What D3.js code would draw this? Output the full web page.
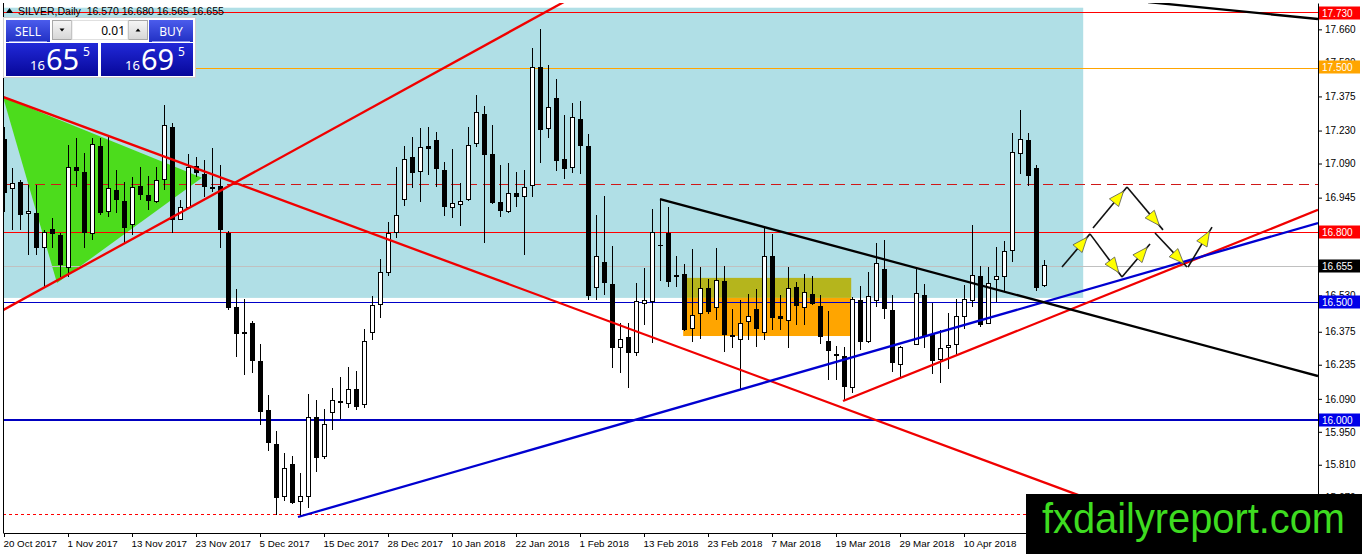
<!DOCTYPE html>
<html>
<head>
<meta charset="utf-8">
<script src="https://cdn.jsdelivr.net/npm/d3@7"></script>
<style>
  html, body { margin: 0; padding: 0; background: #fff; }
  svg { display: block; font-family: "Liberation Sans", Arial, sans-serif; }
</style>
</head>
<body>
<div id="chart"></div>
<script>
// daily candles, bar index 0 = 20 Oct 2017 (bar 113 = Good Friday, no candle)
var opens = [17.194,16.982,17.011,16.876,16.880,16.735,16.812,16.786,16.650,17.075,
  17.054,16.791,17.165,16.884,16.977,16.931,16.829,16.995,16.956,16.927,
  17.024,17.245,16.854,16.905,17.080,17.046,16.990,16.995,16.795,16.480,
  16.374,16.412,16.251,16.043,15.898,15.677,15.813,15.652,15.673,16.013,
  15.843,16.034,16.081,16.072,16.132,16.064,16.374,16.493,16.629,16.795,
  16.939,17.118,17.058,17.165,17.190,17.063,16.905,16.914,16.935,17.177,
  17.301,17.131,16.927,16.884,16.965,16.948,16.995,17.500,17.237,17.369,
  17.109,17.071,17.279,17.165,16.565,16.672,16.578,16.310,16.353,16.289,
  16.497,16.502,16.744,16.795,16.616,16.621,16.391,16.451,16.561,16.480,
  16.591,16.361,16.344,16.417,16.472,16.370,16.697,16.442,16.421,16.565,
  16.480,16.536,16.485,16.336,16.281,16.272,16.140,16.510,16.332,16.506,
  16.642,16.468,16.238,null,16.323,16.531,16.366,16.259,16.310,16.323,
  16.438,16.506,16.612,16.412,16.599,16.608,16.722,17.131,17.190,17.071,
  16.570];
var highs = [17.245,17.071,17.020,16.999,16.999,16.808,16.859,16.795,17.169,17.199,
  17.135,17.199,17.199,17.207,17.063,17.011,17.033,17.075,17.037,17.075,
  17.339,17.262,16.935,17.131,17.118,17.105,17.156,17.084,16.803,16.557,
  16.514,16.421,16.323,16.106,15.953,15.860,15.847,15.775,16.111,16.085,
  16.047,16.136,16.183,16.225,16.208,16.387,16.527,16.684,16.842,17.075,
  17.165,17.203,17.241,17.245,17.224,17.097,17.152,17.007,17.245,17.381,
  17.335,17.254,17.084,17.092,17.054,17.063,17.581,17.662,17.509,17.449,
  17.296,17.347,17.356,17.216,16.871,16.952,16.740,16.412,16.412,16.582,
  16.646,16.897,16.939,16.905,16.697,16.663,16.727,16.650,16.599,16.731,
  16.655,16.472,16.510,16.536,16.557,16.820,16.791,16.531,16.650,16.587,
  16.621,16.612,16.531,16.463,16.315,16.310,16.523,16.570,16.629,16.752,
  16.765,16.531,16.315,null,16.646,16.578,16.497,16.383,16.455,16.514,
  16.574,16.829,16.655,16.650,16.735,16.761,17.220,17.318,17.220,17.084,
  16.680];
var lows = [16.884,16.808,16.808,16.701,16.701,16.565,16.731,16.608,16.608,16.990,
  16.731,16.765,16.871,16.863,16.880,16.752,16.786,16.935,16.893,16.922,
  16.977,16.795,16.850,16.901,17.033,16.948,16.969,16.731,16.468,16.268,
  16.191,16.200,15.979,15.868,15.596,15.656,15.643,15.588,15.626,15.779,
  15.834,15.957,16.004,16.051,16.043,16.051,16.340,16.434,16.612,16.774,
  16.910,16.986,16.927,17.041,16.990,16.867,16.859,16.825,16.931,17.160,
  16.752,16.918,16.863,16.880,16.905,16.701,16.948,17.092,17.199,17.058,
  17.024,17.050,17.046,16.510,16.510,16.531,16.221,16.200,16.136,16.272,
  16.404,16.327,16.591,16.565,16.565,16.378,16.332,16.344,16.451,16.425,
  16.289,16.306,16.128,16.340,16.310,16.340,16.383,16.383,16.306,16.404,
  16.404,16.489,16.323,16.170,16.170,16.085,16.115,16.298,16.327,16.480,
  16.429,16.204,16.179,null,16.319,16.306,16.196,16.157,16.217,16.276,
  16.387,16.480,16.395,16.408,16.502,16.544,16.672,17.046,16.995,16.548,
  16.565];
var closes = [16.965,17.007,16.871,16.884,16.731,16.795,16.791,16.659,17.075,17.058,
  16.795,17.169,16.880,16.982,16.935,16.816,16.990,16.956,16.931,17.016,
  17.250,16.850,16.901,17.075,17.050,16.990,16.982,16.808,16.476,16.366,
  16.366,16.251,16.034,15.902,15.669,15.796,15.647,15.673,16.009,15.839,
  15.983,16.085,16.072,16.128,16.055,16.332,16.485,16.625,16.791,16.871,
  17.109,17.050,17.160,17.152,17.067,16.905,16.922,16.927,17.165,17.305,
  17.126,16.922,16.888,16.961,16.948,16.986,17.496,17.233,17.330,17.101,
  17.067,17.284,17.165,16.527,16.693,16.582,16.306,16.344,16.285,16.502,
  16.506,16.795,16.740,16.587,16.608,16.383,16.446,16.557,16.459,16.595,
  16.361,16.353,16.412,16.442,16.387,16.693,16.434,16.429,16.561,16.485,
  16.540,16.493,16.353,16.293,16.272,16.140,16.514,16.332,16.523,16.663,
  16.472,16.242,16.310,null,16.536,16.353,16.251,16.306,16.315,16.438,
  16.514,16.616,16.404,16.582,16.608,16.714,17.135,17.194,17.037,16.561,
  16.655];

var dateTicks = [0, 8, 16, 24, 32, 40, 48, 56, 64, 72, 80, 88, 96, 104, 112, 120];
var dateLabels = ['20 Oct 2017', '1 Nov 2017', '13 Nov 2017', '23 Nov 2017', '5 Dec 2017',
  '15 Dec 2017', '28 Dec 2017', '10 Jan 2018', '22 Jan 2018', '1 Feb 2018', '13 Feb 2018',
  '23 Feb 2018', '7 Mar 2018', '19 Mar 2018', '29 Mar 2018', '10 Apr 2018'];
var priceTicks = [17.660, 17.520, 17.375, 17.230, 17.090, 16.945, 16.800, 16.655, 16.530,
  16.375, 16.235, 16.090, 15.950, 15.810, 15.670];
var tagPrices = [17.730, 17.500, 16.800, 16.655, 16.500, 16.000];

// drawn objects, as [bar, price] points
var blueZone = [[-0.125, 17.752], [134.9, 16.519]];
var orangeZone = [[84.9, 16.604], [105.9, 16.357]];
var greenTriangle = [[-0.125, 17.373], [24.75, 17.029], [6.625, 16.582]];
var redFalling = [[-0.125, 17.373], [136, 15.66]];
var redRising = [[-0.125, 16.467], [70.5, 17.786]];
var redSupport = [[104.875, 16.081], [164.25, 16.893]];
var blueSupport = [[36.75, 15.588], [164.25, 16.837]];
var blackFalling = [[82, 16.939], [164.25, 16.187]];
var blackTop = [[143, 17.776], [164.25, 17.704]];
var arrowMoves = [
  [[132.25, 16.650], [135.75, 16.791]],
  [[135.75, 16.791], [139.75, 16.608]],
  [[139.75, 16.608], [143.25, 16.748]],
  [[136.125, 16.816], [140.375, 16.990]],
  [[140.375, 16.990], [144.875, 16.808]],
  [[143.875, 16.795], [147.875, 16.650]],
  [[148, 16.650], [151, 16.820]]
];

var symbol = 'SILVER,Daily';
var bidParts = ['16', '65', '5'];
var askParts = ['16', '69', '5'];
var lotSize = '0.01';
var siteName = 'fxdailyreport.com';

var W = 1362, H = 554;
var plotL = 3, plotR = 1318, plotT = 3, plotB = 533;

var x = d3.scaleLinear().domain([-0.125, 164.25]).range([plotL, plotR]);
var y = d3.scaleLinear().domain([15.520, 17.772]).range([plotB, plotT]);

var svg = d3.select('#chart').append('svg')
  .attr('width', W).attr('height', H);
svg.append('rect').attr('width', W).attr('height', H).attr('fill', '#fff');

var defs = svg.append('defs');
defs.append('clipPath').attr('id', 'plotClip').append('rect')
  .attr('x', plotL).attr('y', plotT).attr('width', plotR - plotL).attr('height', plotB - plotT);

function grad(id, c0, c1) {
  var g = defs.append('linearGradient').attr('id', id)
    .attr('x1', 0).attr('y1', 0).attr('x2', 0).attr('y2', 1);
  g.append('stop').attr('offset', '0%').attr('stop-color', c0);
  g.append('stop').attr('offset', '100%').attr('stop-color', c1);
}
grad('btnBlue', '#4b5cec', '#2130c4');
grad('boxBlue', '#2129d8', '#07079a');
grad('spin', '#f6f6f6', '#d6d6d6');

var plot = svg.append('g').attr('clip-path', 'url(#plotClip)');

// rectangles
plot.append('rect')
  .attr('x', x(blueZone[0][0])).attr('y', y(blueZone[0][1]))
  .attr('width', x(blueZone[1][0]) - x(blueZone[0][0]))
  .attr('height', y(blueZone[1][1]) - y(blueZone[0][1]))
  .attr('fill', '#b0dfe6');

plot.append('rect')
  .attr('x', x(orangeZone[0][0])).attr('y', y(orangeZone[0][1]))
  .attr('width', x(orangeZone[1][0]) - x(orangeZone[0][0]))
  .attr('height', y(blueZone[1][1]) - y(orangeZone[0][1]))
  .attr('fill', '#b5b51c');
plot.append('rect')
  .attr('x', x(orangeZone[0][0])).attr('y', y(blueZone[1][1]))
  .attr('width', x(orangeZone[1][0]) - x(orangeZone[0][0]))
  .attr('height', y(orangeZone[1][1]) - y(blueZone[1][1]))
  .attr('fill', '#ffa500');

plot.append('path')
  .attr('d', 'M' + greenTriangle.map(function (d) { return x(d[0]) + ',' + y(d[1]); }).join('L') + 'Z')
  .attr('fill', '#4cdc1c');

// horizontal levels (thin ones snapped to an even pixel row)
var levelStyles = [
  { p: 17.730, c: '#ff0000', w: 1, dash: null },
  { p: 17.500, c: '#ffa500', w: 1, dash: null },
  { p: 17.000, c: '#d01818', w: 1, dash: '10,6' },
  { p: 16.800, c: '#ff0000', w: 1, dash: null },
  { p: 16.655, c: '#c0c0c0', w: 1, dash: null },
  { p: 16.500, c: '#0000c8', w: 1, dash: null },
  { p: 16.000, c: '#0000c0', w: 2, dash: null },
  { p: 15.600, c: '#ff0000', w: 1, dash: '3,3' }
];
function levelY(d) {
  return d.w > 1 ? Math.round(y(d.p)) : 2 * Math.round(y(d.p) / 2) + 0.5;
}
plot.append('g').attr('shape-rendering', 'crispEdges')
  .selectAll('line').data(levelStyles).enter().append('line')
  .attr('x1', plotL).attr('x2', plotR)
  .attr('y1', levelY).attr('y2', levelY)
  .attr('stroke', function (d) { return d.c; })
  .attr('stroke-width', function (d) { return d.w; })
  .attr('stroke-dasharray', function (d) { return d.dash; });

// candles
var idx = d3.range(opens.length).filter(function (i) { return opens[i] != null; });
var candles = plot.append('g').attr('shape-rendering', 'crispEdges');
candles.selectAll('.wick').data(idx).enter().append('line')
  .attr('x1', function (i) { return Math.round(x(i)) + 0.5; })
  .attr('x2', function (i) { return Math.round(x(i)) + 0.5; })
  .attr('y1', function (i) { return y(highs[i]); })
  .attr('y2', function (i) { return y(lows[i]); })
  .attr('stroke', '#000').attr('stroke-width', 1);
candles.selectAll('.body').data(idx).enter().append('rect')
  .attr('x', function (i) { return Math.round(x(i)) - (closes[i] >= opens[i] ? 1.5 : 2); })
  .attr('width', function (i) { return closes[i] >= opens[i] ? 4 : 5; })
  .attr('y', function (i) { return y(Math.max(opens[i], closes[i])); })
  .attr('height', function (i) { return Math.max(1, Math.abs(y(opens[i]) - y(closes[i]))); })
  .attr('fill', function (i) { return closes[i] >= opens[i] ? '#fff' : '#000'; })
  .attr('stroke', function (i) { return closes[i] >= opens[i] ? '#000' : 'none'; })
  .attr('stroke-width', 1);

// trend lines
var line = d3.line().x(function (d) { return x(d[0]); }).y(function (d) { return y(d[1]); });
[
  { pts: redFalling, c: '#f00000' },
  { pts: redRising, c: '#f00000' },
  { pts: redSupport, c: '#f00000' },
  { pts: blueSupport, c: '#0000d0' },
  { pts: blackFalling, c: '#000' },
  { pts: blackTop, c: '#000' }
].forEach(function (t) {
  plot.append('path').attr('d', line(t.pts))
    .attr('fill', 'none').attr('stroke', t.c).attr('stroke-width', 2.3);
});

// arrows
arrowMoves.forEach(function (m) {
  var x0 = x(m[0][0]), y0 = y(m[0][1]), x1 = x(m[1][0]), y1 = y(m[1][1]);
  var dx = x1 - x0, dy = y1 - y0, len = Math.sqrt(dx * dx + dy * dy);
  var ux = dx / len, uy = dy / len;
  plot.append('line').attr('x1', x0).attr('y1', y0).attr('x2', x1).attr('y2', y1)
    .attr('stroke', '#111').attr('stroke-width', 1.6);
  var tx = x0 + ux * len * 0.9, ty = y0 + uy * len * 0.9;
  var bx = tx - ux * 15, by = ty - uy * 15;
  var px = -uy * 6, py = ux * 6;
  plot.append('path')
    .attr('d', 'M' + tx + ',' + ty + 'L' + (bx + px) + ',' + (by + py) + 'L' + (bx - px) + ',' + (by - py) + 'Z')
    .attr('fill', '#ffff00').attr('stroke', '#555').attr('stroke-width', 0.8);
});

// frame and axes
svg.append('line').attr('x1', plotL + 0.5).attr('x2', plotL + 0.5).attr('y1', plotT).attr('y2', plotB)
  .attr('stroke', '#000');

var yAxis = d3.axisRight(y).tickValues(priceTicks).tickFormat(d3.format('.3f'))
  .tickSize(4).tickSizeOuter(0);
var gy = svg.append('g').attr('transform', 'translate(' + plotR + ',0)').call(yAxis);
gy.select('.domain').attr('stroke', '#000');
gy.selectAll('text').attr('font-size', 10).attr('font-family', '"Liberation Sans", Arial, sans-serif')
  .attr('fill', '#000');

var xAxis = d3.axisBottom(x).tickValues(dateTicks)
  .tickFormat(function (d, i) { return dateLabels[i]; })
  .tickSize(4).tickSizeOuter(0);
var gx = svg.append('g').attr('transform', 'translate(0,' + plotB + ')').call(xAxis);
gx.select('.domain').attr('stroke', '#000');
gx.selectAll('text').attr('font-size', 9.8).attr('font-family', '"Liberation Sans", Arial, sans-serif')
  .attr('text-anchor', 'start').attr('x', -1).attr('fill', '#000');

// price tags on the axis
var tagColors = ['#ff0000', '#ffa500', '#ff0000', '#000000', '#0000e8', '#0000e8'];
var tags = svg.selectAll('.tag').data(tagPrices).enter().append('g')
  .attr('transform', function (d) { return 'translate(' + (plotR + 1) + ',' + Math.round(y(d)) + ')'; });
tags.append('rect').attr('x', 0).attr('y', -6.5).attr('width', 41).attr('height', 13)
  .attr('fill', function (d, i) { return tagColors[i]; });
tags.append('text').attr('x', 3).attr('y', 4).attr('font-size', 10).attr('fill', '#fff')
  .text(function (d) { return d3.format('.3f')(d); });

// title
svg.append('path').attr('d', 'M6,13L9.5,8L13,13Z').attr('fill', '#000');
svg.append('text').attr('x', 18).attr('y', 15).attr('font-size', 10.5).attr('fill', '#000')
  .attr('xml:space', 'preserve')
  .text(symbol + '  ' + [opens[130], highs[130], lows[130], closes[130]].map(d3.format('.3f')).join(' '));

// one click trading panel
var panel = svg.append('g');
panel.append('rect').attr('x', 3.5).attr('y', 17.5).attr('width', 192).attr('height', 60)
  .attr('fill', '#fff').attr('stroke', '#d0d0d0');
panel.append('rect').attr('x', 6).attr('y', 20).attr('width', 44).attr('height', 22).attr('fill', 'url(#btnBlue)');
panel.append('rect').attr('x', 149).attr('y', 20).attr('width', 44).attr('height', 22).attr('fill', 'url(#btnBlue)');
panel.append('line').attr('x1', 9).attr('x2', 47).attr('y1', 41.5).attr('y2', 41.5).attr('stroke', '#8c95f0');
panel.append('line').attr('x1', 152).attr('x2', 190).attr('y1', 41.5).attr('y2', 41.5).attr('stroke', '#8c95f0');
panel.append('text').attr('x', 28).attr('y', 35.5).attr('text-anchor', 'middle')
  .attr('font-family', '"Noto Sans", sans-serif').attr('font-size', 12).attr('fill', '#fff').text('SELL');
panel.append('text').attr('x', 171).attr('y', 35.5).attr('text-anchor', 'middle')
  .attr('font-family', '"Noto Sans", sans-serif').attr('font-size', 12).attr('fill', '#fff').text('BUY');
panel.append('rect').attr('x', 52.5).attr('y', 20.5).attr('width', 19).attr('height', 19)
  .attr('fill', 'url(#spin)').attr('stroke', '#a8a8a8');
panel.append('rect').attr('x', 128.5).attr('y', 20.5).attr('width', 19).attr('height', 19)
  .attr('fill', 'url(#spin)').attr('stroke', '#a8a8a8');
panel.append('path').attr('d', 'M59.5,28.5L64.5,28.5L62,31.5Z').attr('fill', '#000');
panel.append('path').attr('d', 'M135.5,31.5L140.5,31.5L138,28.5Z').attr('fill', '#000');
panel.append('rect').attr('x', 72).attr('y', 20.5).attr('width', 56).attr('height', 19)
  .attr('fill', '#fff').attr('stroke', '#e0e0e0');
panel.append('text').attr('x', 125).attr('y', 35).attr('text-anchor', 'end')
  .attr('font-family', '"Noto Sans", sans-serif').attr('font-size', 12).attr('fill', '#000').text(lotSize);

[{ x: 6, parts: bidParts }, { x: 101, parts: askParts }].forEach(function (b) {
  panel.append('rect').attr('x', b.x).attr('y', 43).attr('width', 92).attr('height', 33).attr('fill', 'url(#boxBlue)');
  panel.append('text').attr('x', b.x + 24).attr('y', 70).attr('font-family', '"Noto Sans", sans-serif')
    .attr('font-size', 13).attr('fill', '#fff').text(b.parts[0]);
  panel.append('text').attr('x', b.x + 40).attr('y', 70).attr('font-family', '"Noto Sans", sans-serif')
    .attr('font-size', 29).attr('fill', '#fff').text(b.parts[1]);
  panel.append('text').attr('x', b.x + 77).attr('y', 56).attr('font-family', '"Noto Sans", sans-serif')
    .attr('font-size', 12).attr('fill', '#fff').text(b.parts[2]);
});

// site stamp
svg.append('rect').attr('x', 1026).attr('y', 494).attr('width', W - 1026).attr('height', H - 494).attr('fill', '#000');
svg.append('text').attr('x', 1042).attr('y', 533).attr('font-size', 42)
  .attr('font-family', '"Liberation Sans", Arial, sans-serif')
  .attr('textLength', 303).attr('lengthAdjust', 'spacingAndGlyphs')
  .attr('fill', '#3edc20').text(siteName);
</script>
</body>
</html>
